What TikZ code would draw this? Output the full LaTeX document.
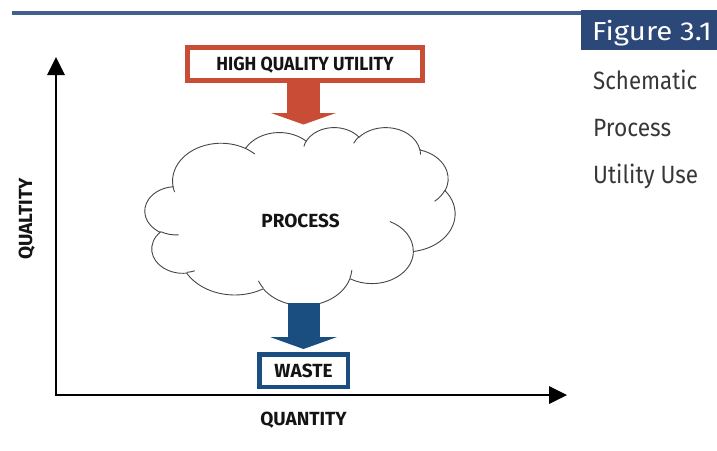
\documentclass[tikz,border=0pt]{standalone}
\usepackage{fontspec}
\setmainfont{Fira Sans}
\usetikzlibrary{arrows.meta}
\definecolor{hqred}{RGB}{200,76,54}
\definecolor{wasteblue}{RGB}{26,78,128}
\definecolor{figbox}{RGB}{44,72,120}
\definecolor{topline}{RGB}{66,96,142}
\definecolor{captext}{RGB}{55,55,55}
\definecolor{cloudgray}{RGB}{70,70,70}
\definecolor{lbltext}{RGB}{20,20,20}
\newcommand{\cldang}[5]{%
  \pgfmathsetmacro{\cldts}{atan2((#2)*sin(#4),(#3)*cos(#4))}%
  \pgfmathsetmacro{\cldte}{atan2((#2)*sin((#4)+(#5)),(#3)*cos((#4)+(#5)))}%
  \pgfmathsetmacro{\cldd}{\cldte-\cldts}%
  \pgfmathsetmacro{\cldd}{ifthenelse(\cldd<0,\cldd+360,\cldd)}%
  \expandafter\let\csname cld#1s\endcsname\cldts
  \expandafter\let\csname cld#1d\endcsname\cldd}
\tikzset{
  cloudline/.style={draw=cloudgray, line width=0.9pt},
  lbl/.style={font=\bfseries\fontsize{19}{19}\selectfont, text=lbltext, inner sep=0pt, text height=13.1pt, text depth=0pt},
  capt/.style={font=\fontsize{25}{25}\selectfont, text=captext, inner sep=0pt, anchor=base west},
  axisline/.style={line width=2.3pt, line join=miter,
     {Triangle[length=18pt,width=18pt,line width=0pt]}-{Triangle[length=18pt,width=18pt,line width=0pt]}},
  blockred/.style={draw=hqred, line width=33pt, -{Triangle[length=11.5pt,width=65pt,line width=0pt]}},
  blockblue/.style={draw=wasteblue, line width=32pt, -{Triangle[length=12pt,width=67pt,line width=0pt]}},
}
\begin{document}
\begin{tikzpicture}[x=1pt,y=-1pt]
\useasboundingbox (0,0) rectangle (717,450);
% header
\draw[topline, line width=4pt] (12,12.5) -- (588,12.5);
\node[fill=figbox, minimum width=136pt, minimum height=40pt, inner sep=0pt, anchor=north west] (figbg) at (581,10) {};
\node[anchor=base west, inner sep=0pt, text=white, font=\fontsize{26}{26}\selectfont] (figtitle) at (592,40) {\scalebox{1.13}[1]{Figure 3.1}};
\node[capt] (cap1) at (593,89) {\scalebox{0.89}[1]{Schematic}};
\node[capt] (cap2) at (593,136) {\scalebox{0.91}[1]{Process}};
\node[capt] (cap3) at (593,183) {\scalebox{0.9}[1]{Utility Use}};
% axes
\coordinate (ytop) at (56,57);
\coordinate (origin) at (56,395);
\coordinate (xend) at (567,395);
\draw[axisline] (ytop) -- (origin) -- (xend);
\node[lbl, rotate=90] (qualtity) at (25.5,219) {QUALTITY};
\node[lbl] (quantity) at (303.5,418.5) {QUANTITY};
% cloud angles (visual -> parametric)
\cldang{a}{67.53}{91.90}{-190.4875}{123.7805}
\cldang{b}{53.33}{72.67}{-144.1024}{89.9452}
\cldang{c}{43.65}{59.45}{-145.8079}{99.7230}
\cldang{d}{48.57}{65.95}{-130.9861}{117.2417}
\cldang{e}{53.33}{72.73}{-78.7089}{109.0269}
\cldang{f}{67.75}{92.20}{-46.2673}{130.2690}
\cldang{g}{57.85}{78.67}{0.6250}{114.0333}
\cldang{h}{67.52}{92.15}{22.4516}{115.1726}
\cldang{i}{77.20}{105.43}{66.2426}{75.7110}
\cldang{j}{43.60}{59.18}{-274.9421}{146.7356}
\cldang{k}{43.45}{59.45}{-246.8285}{152.5189}
\cldang{ha}{43.45}{59.45}{86.7420}{26.4295}
\cldang{hb}{43.60}{59.18}{73.6105}{11.4475}
\cldang{hc}{67.52}{92.15}{137.6242}{14.0811}
\cldang{hd}{67.52}{92.15}{6.4533}{15.9984}
\cldang{he}{57.85}{78.67}{-70.2924}{70.9174}
\cldang{hf}{53.33}{72.73}{30.3180}{27.7515}
\cldang{hg}{48.57}{65.95}{-13.7443}{14.8589}
\cldang{hh}{48.57}{65.95}{-149.1815}{18.1954}
\cldang{hi}{43.65}{59.45}{-163.4943}{17.6864}
\cldang{hj}{67.53}{91.90}{-66.7070}{12.3194}
\cldang{hk}{67.53}{91.90}{157.6544}{11.8582}
\begin{scope}[shift={(145,127)},x=0.71759pt,y=-0.41204pt]
\draw[cloudline, fill=white] (39.00,143.70)
  arc[start angle=\cldas,delta angle=\cldad,x radius=67.53,y radius=91.90]
  arc[start angle=\cldbs,delta angle=\cldbd,x radius=53.33,y radius=72.67]
  arc[start angle=\cldcs,delta angle=\cldcd,x radius=43.65,y radius=59.45]
  arc[start angle=\cldds,delta angle=\clddd,x radius=48.57,y radius=65.95]
  arc[start angle=\cldes,delta angle=\clded,x radius=53.33,y radius=72.73]
  arc[start angle=\cldfs,delta angle=\cldfd,x radius=67.75,y radius=92.20]
  arc[start angle=\cldgs,delta angle=\cldgd,x radius=57.85,y radius=78.67]
  arc[start angle=\cldhs,delta angle=\cldhd,x radius=67.52,y radius=92.15]
  arc[start angle=\cldis,delta angle=\cldid,x radius=77.20,y radius=105.43]
  arc[start angle=\cldjs,delta angle=\cldjd,x radius=43.60,y radius=59.18]
  arc[start angle=\cldks,delta angle=\cldkd,x radius=43.45,y radius=59.45]
  -- cycle;
\draw[cloudline] (46.93,261.77) arc[start angle=\cldhas,delta angle=\cldhad,x radius=43.45,y radius=59.45];
\draw[cloudline] (69.28,348.99) arc[start angle=\cldhbs,delta angle=\cldhbd,x radius=43.60,y radius=59.18];
\draw[cloudline] (164.78,390.90) arc[start angle=\cldhcs,delta angle=\cldhcd,x radius=67.52,y radius=92.15];
\draw[cloudline] (288.27,347.51) arc[start angle=\cldhds,delta angle=\cldhdd,x radius=67.52,y radius=92.15];
\draw[cloudline] (341.29,229.54) arc[start angle=\cldhes,delta angle=\cldhed,x radius=57.85,y radius=78.67];
\draw[cloudline] (417.98,153.54) arc[start angle=\cldhfs,delta angle=\cldhfd,x radius=53.33,y radius=72.73];
\draw[cloudline] (383.24,54.26) arc[start angle=\cldhgs,delta angle=\cldhgd,x radius=48.57,y radius=65.95];
\draw[cloudline] (290.78,39.52) arc[start angle=\cldhhs,delta angle=\cldhhd,x radius=48.57,y radius=65.95];
\draw[cloudline] (221.41,47.20) arc[start angle=\cldhis,delta angle=\cldhid,x radius=43.65,y radius=59.45];
\draw[cloudline] (140.00,51.92) arc[start angle=\cldhjs,delta angle=\cldhjd,x radius=67.53,y radius=91.90];
\draw[cloudline] (41.27,157.89) arc[start angle=\cldhks,delta angle=\cldhkd,x radius=67.53,y radius=91.90];
\end{scope}
\node[lbl] (process) at (300.5,221) {PROCESS};
% boxes
\node[lbl, draw=hqred, line width=5pt, minimum width=235pt, minimum height=33pt] (hq) at (305,64) {\scalebox{0.93}[1]{HIGH QUALITY UTILITY}};
\node[lbl, draw=wasteblue, line width=4.5pt, minimum width=88.5pt, minimum height=32.5pt] (waste) at (303.5,370.5) {WASTE};
% block arrows
\coordinate (rtip) at (303.5,124.5);
\coordinate (bstart) at (303.5,303);
\coordinate (btip) at (303.5,349);
\draw[blockred] (hq.south -| rtip) -- (rtip);
\draw[blockblue] (bstart) -- (btip);
\end{tikzpicture}
\end{document}
